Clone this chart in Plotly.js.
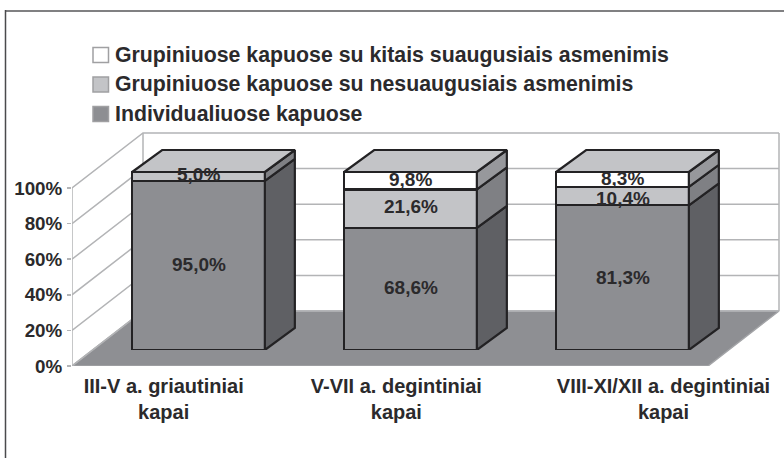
<!DOCTYPE html>
<html>
<head>
<meta charset="utf-8">
<script src="https://cdn.plot.ly/plotly-3.0.1.min.js"></script>
<style>html,body{margin:0;padding:0;background:#fff}#chart{width:784px;height:458px}</style>
</head>
<body>
<div id="chart"></div>
<script>
// ---- data ----
const categories = ['III-V a. griautiniai<br>kapai', 'V-VII a. degintiniai<br>kapai', 'VIII-XI/XII a. degintiniai<br>kapai'];
const seriesNames = ['Individualiuose kapuose', 'Grupiniuose kapuose su nesuaugusiais asmenimis', 'Grupiniuose kapuose su kitais suaugusiais asmenimis'];
const individual = [95.0, 68.6, 81.3];
const withChildren = [5.0, 21.6, 10.4];
const withAdults = [0, 9.8, 8.3];
const yTicks = [0, 20, 40, 60, 80, 100];

// ---- styling ----
const W = 784, H = 458;
const FONT = '"Liberation Sans", Arial, sans-serif';
const frontColors = ['#8d8e92', '#c3c4c7', '#ffffff'];
const sideColors = ['#5f6064', '#7f8084', '#97989c'];
const edge = '#232224', wall = '#b3b4b6', textCol = '#2b2a2c';
const catPx = 212, hPx = 178;            // pixels per category, per 100 %
const barWidth = 132.7 / catPx;
const depthX = 30 / catPx, depthY = 22 / hPx * 100;
const wallX = 71 / catPx, wallY = 55 / hPx * 100;
const slotOffset = [-0.0675, 1.03, 2.29]; // label positions on the front axis
const labelNudge = [[1, 1, 0], [1.5, 2, -2.5], [0, 1, 1]]; // px, per series, per category
const series = [individual, withChildren, withAdults];
const px = v => v / W, py = v => 1 - v / H;

const traces = [];
const idx = categories.map((_, i) => i);
const line = (x, y, color, width) => ({x, y, mode: 'lines', line: {color, width}, hoverinfo: 'skip', showlegend: false, xaxis: 'x', yaxis: 'y'});

// floor
traces.push({x: [-0.5, 2.5, 2.5 + wallX, -0.5 + wallX, -0.5], y: [0, 0, wallY, wallY, 0], mode: 'lines', fill: 'toself', fillcolor: '#8e8f93',
  line: {color: '#a3a4a7', width: 1.5}, hoverinfo: 'skip', showlegend: false});
// back wall and left wall rules
yTicks.forEach(t => {
  traces.push(line([-0.5, -0.5 + wallX, 2.5 + wallX], [t, t + wallY, t + wallY], wall, 1.5));
});
traces.push(line([-0.5, -0.5], [0, 100], wall, 1.5));
traces.push(line([-0.5 + wallX, -0.5 + wallX], [wallY, 100 + wallY], wall, 1.5));
traces.push(line([2.5 + wallX, 2.5 + wallX], [wallY, 100 + wallY], wall, 1.5));

// front faces
series.forEach((vals, s) => {
  traces.push({type: 'bar', x: idx, y: vals, name: seriesNames[s], width: barWidth, xaxis: 'x2', yaxis: 'y2',
    marker: {color: frontColors[s], line: {color: edge, width: 2.2}}, showlegend: false, hoverinfo: 'name+y'});
});
// side faces, per series
const cum = idx.map(() => 0);
const annotations = [];
series.forEach((vals, s) => {
  const xs = [], ys = [];
  vals.forEach((v, i) => {
    const lo = cum[i], hi = lo + v, r = i + barWidth / 2;
    if (v > 0) {
      xs.push(r, r + depthX, r + depthX, r, r, null);
      ys.push(lo, lo + depthY, hi + depthY, hi, lo, null);
      annotations.push({xref: 'x2', yref: 'y2', x: i, y: lo + v / 2, yshift: labelNudge[s][i], showarrow: false,
        text: v.toFixed(1).replace('.', ',') + '%', font: {family: FONT, size: 19, color: textCol, weight: 'bold'},
        xanchor: 'center', yanchor: 'middle'});
    }
    cum[i] = hi;
  });
  traces.push({x: xs, y: ys, xaxis: 'x2', yaxis: 'y2', mode: 'lines', fill: 'toself', fillcolor: sideColors[s],
    line: {color: edge, width: 2.2}, hoverinfo: 'skip', showlegend: false});
});
// top faces
const tx = [], ty = [];
idx.forEach(i => {
  const l = i - barWidth / 2, r = i + barWidth / 2, t = cum[i];
  tx.push(l, r, r + depthX, l + depthX, l, null);
  ty.push(t, t, t + depthY, t + depthY, t, null);
});
traces.push({x: tx, y: ty, xaxis: 'x2', yaxis: 'y2', mode: 'lines', fill: 'toself', fillcolor: '#c3c4c7',
  line: {color: edge, width: 2.2}, hoverinfo: 'skip', showlegend: false});

// manual legend (top entry first)
const legendY = [55, 84.5, 114];
const legendOrder = [2, 1, 0];
const shapes = [];
legendOrder.forEach((s, k) => {
  shapes.push({type: 'rect', xref: 'paper', yref: 'paper', x0: px(93), x1: px(108.5), y0: py(legendY[k] - 7.5), y1: py(legendY[k] + 7.5),
    fillcolor: frontColors[s], line: {color: '#a0a0a2', width: 1.5}});
  annotations.push({xref: 'paper', yref: 'paper', x: px(113), y: py(legendY[k]), xanchor: 'left', yanchor: 'middle', showarrow: false,
    text: seriesNames[s], font: {family: FONT, size: 21.3, color: textCol, weight: 'bold'}});
});
// outer frame
shapes.push({type: 'line', xref: 'paper', yref: 'paper', layer: 'above', x0: px(5.5), x1: 1, y0: py(11), y1: py(11), line: {color: '#808082', width: 2}});
shapes.push({type: 'line', xref: 'paper', yref: 'paper', layer: 'above', x0: px(5.5), x1: px(5.5), y0: py(10), y1: 0, line: {color: '#4a4a4c', width: 1.5}});

const frontRange = [-0.5, -0.5 + (782 - 72) / catPx];
const layout = {
  width: W, height: H, margin: {l: 0, r: 0, t: 0, b: 0}, paper_bgcolor: '#fff', plot_bgcolor: 'rgba(0,0,0,0)',
  barmode: 'stack', showlegend: false, shapes, annotations, hovermode: false,
  xaxis: {domain: [px(72), px(782)], range: frontRange, anchor: 'y', showgrid: false, zeroline: false, showline: false,
    tickmode: 'array', tickvals: slotOffset, ticktext: categories, ticks: '', ticklabelstandoff: 6, tickangle: 0,
    tickfont: {family: FONT, size: 20, color: textCol, weight: 'bold'}},
  yaxis: {domain: [py(366), py(120)], range: [0, (366 - 120) / hPx * 100], anchor: 'x', showgrid: false, zeroline: false, showline: false,
    tickmode: 'array', tickvals: yTicks, ticktext: yTicks.map(t => t + '%'), ticks: 'outside', ticklen: 4, tickcolor: wall, tickwidth: 1.5,
    ticklabelstandoff: 1, tickfont: {family: FONT, size: 18.8, color: textCol, weight: 'bold'}},
  xaxis2: {domain: [px(92.5), px(782)], range: [-0.5, -0.5 + (782 - 92.5) / catPx], anchor: 'y2', visible: false, fixedrange: true},
  yaxis2: {domain: [py(350), py(120)], range: [0, (350 - 120) / hPx * 100], anchor: 'x2', visible: false, fixedrange: true}
};
Plotly.newPlot('chart', traces, layout, {displayModeBar: false, staticPlot: true});
</script>
</body>
</html>
